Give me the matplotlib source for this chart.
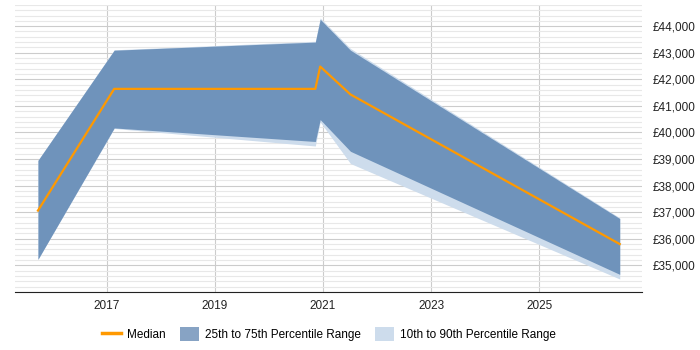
import matplotlib
matplotlib.use("Agg")
import matplotlib.pyplot as plt
from matplotlib.ticker import MultipleLocator, FuncFormatter
from matplotlib.patches import Patch
from matplotlib.lines import Line2D

plt.rcParams['font.family'] = ['Liberation Sans', 'DejaVu Sans']

# fractional years
years = [2015.73, 2017.14, 2020.86, 2020.95, 2021.51, 2026.49]
median = [37060, 41640, 41640, 42480, 41430, 35800]
p25 = [35225, 40170, 39660, 40485, 39290, 34660]
p75 = [38950, 43095, 43400, 44260, 43095, 36760]
p10 = [35225, 40150, 39490, 40395, 38830, 34485]
p90 = [38950, 43110, 43430, 44310, 43160, 36790]
xticks = [2017, 2019, 2021, 2023, 2025]

fig = plt.figure(figsize=(7, 3.5), dpi=100)
ax = fig.add_axes([0.021, 0.166, 0.896, 0.82])

ax.fill_between(years, p10, p90, color='#cddcec', lw=0)
ax.fill_between(years, p25, p75, color='#6f93bb', lw=0)
ax.plot(years, median, color='#ff9900', lw=1.6)

ax.set_xlim(2015.3, 2026.9)
ax.set_ylim(34000, 44800)
ax.set_xticks(xticks)
ax.set_xticklabels([str(y) for y in xticks])
ax.yaxis.set_major_locator(MultipleLocator(1000))
ax.yaxis.set_minor_locator(MultipleLocator(200))
ax.yaxis.set_major_formatter(FuncFormatter(lambda v, p: '£{:,.0f}'.format(v)))
ax.yaxis.tick_right()
ax.set_yticks([v for v in range(35000, 45000, 1000)])

ax.grid(axis='y', which='major', color='#cccccc', lw=0.8)
ax.grid(axis='y', which='minor', color='#e8e8e8', lw=0.8)
ax.grid(axis='x', which='major', color='#cccccc', lw=0.8)
ax.set_axisbelow(True)
ax.tick_params(axis='both', which='both', length=0, labelsize=8.5, colors='#222222')
ax.tick_params(axis='x', pad=6)
ax.tick_params(axis='y', pad=8)
for s in ['top', 'left', 'right']:
    ax.spines[s].set_visible(False)
ax.spines['bottom'].set_color('#222222')

handles = [Line2D([0], [0], color='#ff9900', lw=2.5),
           Patch(facecolor='#87a3c4'),
           Patch(facecolor='#cddcec')]
labels = ['Median', '25th to 75th Percentile Range', '10th to 90th Percentile Range']
fig.legend(handles, labels, loc='center', bbox_to_anchor=(0.47, 0.045), ncol=3,
           frameon=False, fontsize=8.5, handlelength=1.6, handleheight=1.4,
           columnspacing=1.2, handletextpad=0.5)

fig.savefig('out.png', dpi=100)
